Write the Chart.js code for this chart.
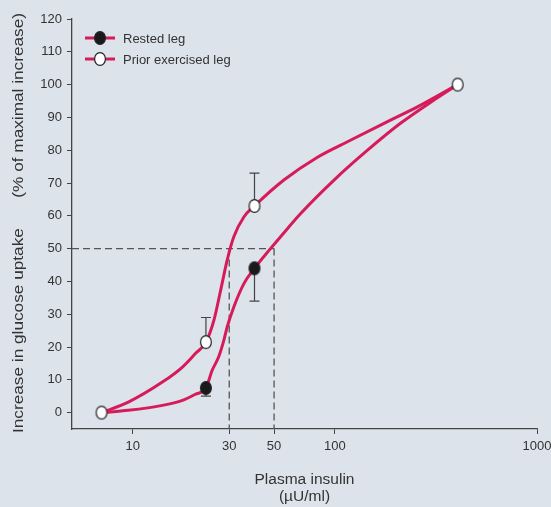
<!DOCTYPE html>
<html>
<head>
<meta charset="utf-8">
<script src="https://cdn.jsdelivr.net/npm/chart.js@4.4.1/dist/chart.umd.min.js"></script>
<style>
  html, body { margin: 0; padding: 0; background: #dce3ea; }
  #wrap { width: 551px; height: 507px; }
</style>
</head>
<body>
<div id="wrap"><canvas id="myChart" width="551" height="507"></canvas></div>
<script>
'use strict';

// measured points (insulin uU/ml, % of maximal increase)
let restedX = [23, 40];
let restedY = [7.5, 44];
let priorX = [7, 23, 40, 405];
let priorY = [0, 21.5, 63, 100];

// error bars (only one side is drawn in the figure)
let restedErrLow = [5, 34];
let priorErrHigh = [null, 29, 73, null];

// fitted curves
let restedCurveX = [7, 9.5, 14, 17.6, 20.4, 23, 24.7, 26.6, 28.2, 29.3, 31.6, 35.5, 40, 48, 53.8, 67.7, 99, 145, 211, 309, 405];
let restedCurveY = [0, 0.7, 2.2, 3.75, 5.6, 7.5, 12.9, 17, 22, 26.1, 32.2, 39.4, 44, 50, 53.6, 60.7, 70.9, 80, 88.2, 95.3, 100];
let priorCurveX = [7, 9.5, 14, 17.6, 20.4, 23, 25.2, 27.2, 29.3, 31.6, 35.5, 40, 55.9, 81.6, 120, 175, 256, 405];
let priorCurveY = [0, 3.2, 9.3, 13.9, 18, 21.5, 28.2, 37.3, 46.5, 53.6, 59.7, 63, 70.9, 77.8, 83.1, 88.2, 93.2, 100];

// half-maximal guide lines
let halfMax = 50;
let halfX = [30, 50];

let xTicks = [10, 30, 50, 100, 1000];
let yTicks = [0, 10, 20, 30, 40, 50, 60, 70, 80, 90, 100, 110, 120];

let seriesNames = ['Rested leg', 'Prior exercised leg'];

const pink = '#d61b5b';
const ink = '#333333';
const font = '"Liberation Sans", Arial, sans-serif';

function pairs(xs, ys) {
    let out = [];
    for (let i = 0; i < xs.length; i++) {
        out.push({ x: xs[i], y: ys[i] });
    }
    return out;
}

// the figure is a little stretched vertically, so the markers are ovals
function makeMarker(fill) {
    let c = document.createElement('canvas');
    c.width = 14;
    c.height = 16;
    let g = c.getContext('2d');
    g.beginPath();
    g.ellipse(7, 8, 5.4, 6.4, 0, 0, Math.PI * 2);
    g.fillStyle = fill;
    g.fill();
    g.strokeStyle = '#222';
    g.lineWidth = 1.2;
    g.stroke();
    return c;
}
let blackDot = makeMarker('#1a1a1a');
let whiteDot = makeMarker('#ffffff');

let dashStyle = {
    type: 'line',
    borderColor: '#555',
    borderWidth: 1.3,
    borderDash: [7, 4],
    pointRadius: 0,
    fill: false,
    order: 5
};

const data = {
    datasets: [
        Object.assign({ data: [{ x: 5, y: halfMax }, { x: halfX[1], y: halfMax }] }, dashStyle),
        Object.assign({ data: [{ x: halfX[0], y: halfMax }, { x: halfX[0], y: -5 }] }, dashStyle),
        Object.assign({ data: [{ x: halfX[1], y: halfMax }, { x: halfX[1], y: -5 }] }, dashStyle),
        {
            type: 'line',
            data: pairs(restedCurveX, restedCurveY),
            borderColor: pink,
            borderWidth: 3,
            pointRadius: 0,
            cubicInterpolationMode: 'monotone',
            order: 3
        },
        {
            type: 'line',
            data: pairs(priorCurveX, priorCurveY),
            borderColor: pink,
            borderWidth: 3,
            pointRadius: 0,
            cubicInterpolationMode: 'monotone',
            order: 3
        },
        {
            type: 'scatter',
            label: seriesNames[0],
            data: pairs(restedX, restedY),
            pointStyle: blackDot,
            order: 1
        },
        {
            type: 'scatter',
            label: seriesNames[1],
            data: pairs(priorX, priorY),
            pointStyle: whiteDot,
            order: 0
        }
    ]
};

// error bars drawn under the markers
const errorBars = {
    id: 'errorBars',
    beforeDatasetsDraw(chart) {
        let ctx = chart.ctx;
        let xs = chart.scales.x;
        let ys = chart.scales.y;
        ctx.save();
        ctx.strokeStyle = '#444';
        ctx.lineWidth = 1.2;
        function bar(xv, from, to) {
            let px = xs.getPixelForValue(xv);
            let p1 = ys.getPixelForValue(from);
            let p2 = ys.getPixelForValue(to);
            ctx.beginPath();
            ctx.moveTo(px, p1);
            ctx.lineTo(px, p2);
            ctx.moveTo(px - 5, p2);
            ctx.lineTo(px + 5, p2);
            ctx.stroke();
        }
        for (let i = 0; i < restedX.length; i++) {
            if (restedErrLow[i] !== null) bar(restedX[i], restedY[i], restedErrLow[i]);
        }
        for (let i = 0; i < priorX.length; i++) {
            if (priorErrHigh[i] !== null) bar(priorX[i], priorY[i], priorErrHigh[i]);
        }
        ctx.restore();
    }
};

// legend and y title drawn by hand
const extras = {
    id: 'extras',
    afterDraw(chart) {
        let ctx = chart.ctx;
        ctx.save();
        ctx.font = '13px ' + font;
        ctx.textBaseline = 'middle';
        let rows = [
            { y: 38, dot: blackDot },
            { y: 59, dot: whiteDot }
        ];
        for (let i = 0; i < rows.length; i++) {
            let r = rows[i];
            ctx.strokeStyle = pink;
            ctx.lineWidth = 3;
            ctx.beginPath();
            ctx.moveTo(85, r.y);
            ctx.lineTo(115, r.y);
            ctx.stroke();
            ctx.drawImage(r.dot, 100 - 7, r.y - 8);
            ctx.fillStyle = ink;
            ctx.fillText(seriesNames[i], 123, r.y + 1);
        }

        ctx.font = '14px ' + font;
        ctx.fillStyle = ink;
        ctx.translate(23, 0);
        ctx.rotate(-Math.PI / 2);
        ctx.scale(1.23, 1);
        ctx.textBaseline = 'alphabetic';
        ctx.textAlign = 'left';
        ctx.fillText('Increase in glucose uptake', -433 / 1.23, 0);
        ctx.textAlign = 'right';
        ctx.fillText('(% of maximal increase)', -13 / 1.23, 0);
        ctx.restore();
    }
};

const config = {
    type: 'scatter',
    data: data,
    options: {
        responsive: false,
        animation: false,
        layout: { padding: { left: 0, right: 14, top: 19, bottom: 0 } },
        plugins: {
            legend: { display: false },
            tooltip: { enabled: false }
        },
        scales: {
            x: {
                type: 'logarithmic',
                min: 5,
                max: 1000,
                afterBuildTicks: (scale) => {
                    scale.ticks = xTicks.map(v => ({ value: v }));
                },
                afterFit: (scale) => {
                    scale.height = 78;
                    scale.paddingLeft = 0;
                    scale.paddingRight = 0;
                },
                ticks: {
                    color: ink,
                    font: { family: font, size: 13 },
                    padding: 5,
                    maxRotation: 0,
                    autoSkip: false,
                    callback: (v) => String(v)
                },
                grid: {
                    drawOnChartArea: false,
                    drawTicks: true,
                    tickLength: 5,
                    color: '#444'
                },
                border: { display: true, color: '#444', width: 1.3 },
                title: {
                    display: true,
                    text: ['Plasma insulin', '(\u00b5U/ml)'],
                    color: ink,
                    font: { family: font, size: 15.5, lineHeight: 1.15 },
                    padding: { top: 0, bottom: 1 }
                }
            },
            y: {
                min: -5,
                max: 120,
                afterBuildTicks: (scale) => {
                    scale.ticks = yTicks.map(v => ({ value: v }));
                },
                afterFit: (scale) => { scale.width = 72; },
                ticks: {
                    color: ink,
                    font: { family: font, size: 13 },
                    padding: 5
                },
                grid: {
                    drawOnChartArea: false,
                    drawTicks: true,
                    tickLength: 5,
                    color: '#444'
                },
                border: { display: true, color: '#444', width: 1.3 }
            }
        }
    },
    plugins: [errorBars, extras]
};

var myChart = new Chart(document.getElementById('myChart'), config);
</script>
</body>
</html>
